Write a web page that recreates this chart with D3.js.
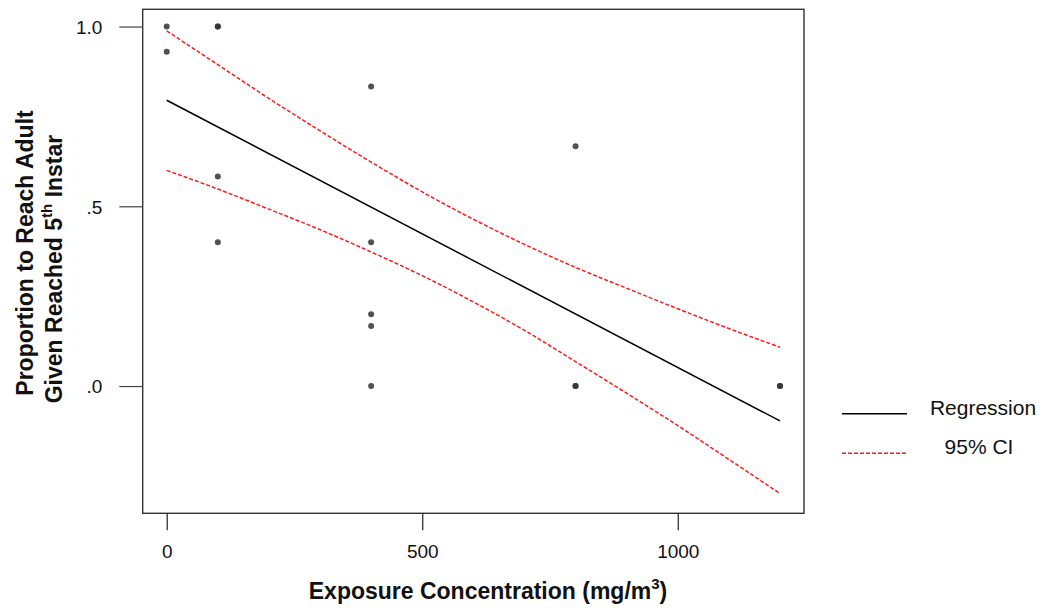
<!DOCTYPE html>
<html><head><meta charset="utf-8">
<script src="https://cdn.jsdelivr.net/npm/d3@7"></script>
<style>
html,body{margin:0;padding:0;background:#fff;}
svg{display:block;font-family:"Liberation Sans",Arial,sans-serif;}
</style></head>
<body>
<svg id="chart" width="1042" height="612"></svg>
<script>
// ---- data ----
const pointX = [0, 0, 100, 100, 100, 100, 400, 400, 400, 400, 400, 800, 800, 800, 1200, 1200];
const pointY = [1.0, 0.93, 1.0, 1.0, 0.583, 0.4, 0.833, 0.4, 0.2, 0.167, 0.0, 0.667, 0.0, 0.0, 0.0, 0.0];
const regX = [0, 1200];
const regY = [0.795, -0.097];
const ciX = [0, 100, 200, 300, 400, 500, 600, 700, 800, 900, 1000, 1100, 1200];
const ciUpper = [0.988, 0.894, 0.800, 0.710, 0.623, 0.540, 0.464, 0.394, 0.330, 0.272, 0.215, 0.160, 0.108];
const ciLower = [0.600, 0.548, 0.492, 0.435, 0.373, 0.307, 0.234, 0.155, 0.068, -0.020, -0.110, -0.204, -0.299];
const xTicks = [0, 500, 1000];
const xTickLabels = ["0", "500", "1000"];
const yTicks = [0, 0.5, 1.0];
const yTickLabels = [".0", ".5", "1.0"];
const legendLabels = ["Regression", "95% CI"];

const svg = d3.select("#chart");
const L = 142.7, R = 804, T = 9.3, B = 513.3;
const x = d3.scaleLinear().domain([-47, 1247]).range([L, R]);
const y = d3.scaleLinear().domain([-0.354, 1.048]).range([B, T]);

// frame
svg.append("rect").attr("x", L).attr("y", T).attr("width", R - L).attr("height", B - T)
  .attr("fill", "none").attr("stroke", "#333").attr("stroke-width", 1.4);

// y axis
const yAxis = d3.axisLeft(y).tickValues(yTicks).tickSize(23.4).tickPadding(17)
  .tickFormat((d, i) => yTickLabels[i]);
const gy = svg.append("g").attr("transform", `translate(${L},0)`).call(yAxis);
gy.select(".domain").remove();
gy.selectAll(".tick line").attr("stroke", "#444").attr("stroke-width", 1.2);
gy.selectAll(".tick text").attr("font-size", 19).attr("fill", "#111")
  .attr("font-family", "Liberation Sans, Arial, sans-serif").attr("dy", "0.36em");

// x axis
const xAxis = d3.axisBottom(x).tickValues(xTicks).tickSize(17).tickPadding(14)
  .tickFormat((d, i) => xTickLabels[i]);
const gx = svg.append("g").attr("transform", `translate(0,${B})`).call(xAxis);
gx.select(".domain").remove();
gx.selectAll(".tick line").attr("stroke", "#222").attr("stroke-width", 1.2);
gx.selectAll(".tick text").attr("font-size", 19).attr("fill", "#111")
  .attr("font-family", "Liberation Sans, Arial, sans-serif");

// CI curves
const ciLine = d3.line().x(d => x(d[0])).y(d => y(d[1])).curve(d3.curveMonotoneX);
[ciUpper, ciLower].forEach(arr => {
  svg.append("path").datum(ciX.map((v, i) => [v, arr[i]]))
    .attr("d", ciLine).attr("fill", "none").attr("stroke", "#ff1a1a")
    .attr("stroke-width", 1.5).attr("stroke-dasharray", "4,2");
});

// regression
svg.append("path").datum(regX.map((v, i) => [v, regY[i]]))
  .attr("d", d3.line().x(d => x(d[0])).y(d => y(d[1])))
  .attr("fill", "none").attr("stroke", "#000").attr("stroke-width", 1.5);

// points
svg.append("g").selectAll("circle").data(pointX.map((v, i) => [v, pointY[i]]))
  .join("circle").attr("cx", d => x(d[0])).attr("cy", d => y(d[1])).attr("r", 3)
  .attr("fill", "#333").attr("fill-opacity", 0.85);

// axis titles
const xt = svg.append("text").attr("x", 488).attr("y", 599).attr("text-anchor", "middle")
  .attr("font-size", 23).attr("font-weight", "bold").attr("fill", "#111");
xt.append("tspan").text("Exposure Concentration (mg/m");
xt.append("tspan").attr("dy", -10).attr("font-size", 15).text("3");
xt.append("tspan").attr("dy", 10).text(")");

const yt = svg.append("g").attr("transform", "rotate(-90)");
yt.append("text").attr("x", -253).attr("y", 33).attr("text-anchor", "middle")
  .attr("font-size", 23).attr("font-weight", "bold").attr("fill", "#111")
  .text("Proportion to Reach Adult");
const t2 = yt.append("text").attr("x", -269).attr("y", 62).attr("text-anchor", "middle")
  .attr("font-size", 23).attr("font-weight", "bold").attr("fill", "#111");
t2.append("tspan").text("Given Reached 5");
t2.append("tspan").attr("dy", -10).attr("font-size", 15).text("th");
t2.append("tspan").attr("dy", 10).text(" Instar");

// legend
const lg = svg.append("g");
lg.append("line").attr("x1", 842).attr("x2", 907).attr("y1", 413.7).attr("y2", 413.7)
  .attr("stroke", "#000").attr("stroke-width", 1.5);
lg.append("line").attr("x1", 842).attr("x2", 907).attr("y1", 453.3).attr("y2", 453.3)
  .attr("stroke", "#ff1a1a").attr("stroke-width", 1.5).attr("stroke-dasharray", "4,2");
lg.append("text").attr("x", 983).attr("y", 415).attr("text-anchor", "middle")
  .attr("font-size", 21).attr("fill", "#111").text(legendLabels[0]);
lg.append("text").attr("x", 979).attr("y", 454).attr("text-anchor", "middle")
  .attr("font-size", 21).attr("fill", "#111").text(legendLabels[1]);
</script>
</body></html>
